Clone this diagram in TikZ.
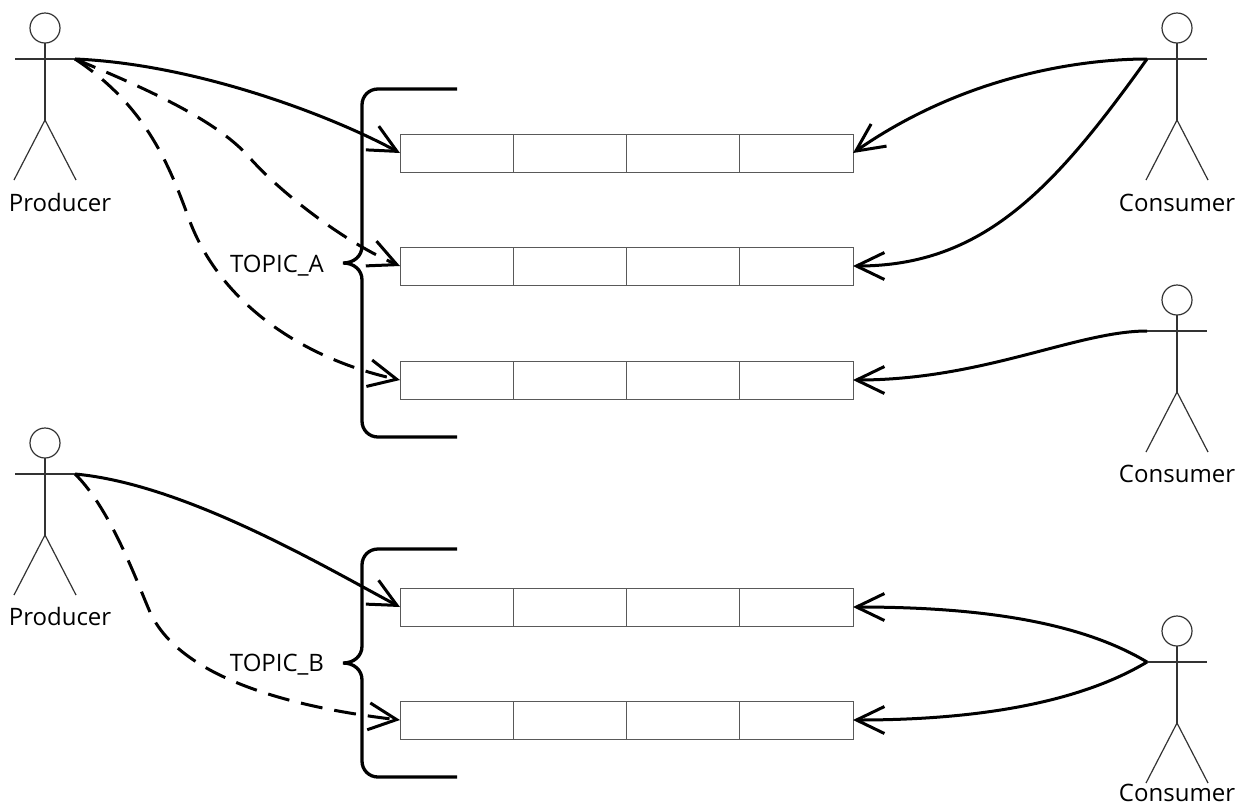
\documentclass[tikz,border=0pt]{standalone}
\usepackage{fontspec}
\setmainfont{Open Sans}
\usetikzlibrary{arrows.meta}
\tikzset{
  fig/.style={draw=black!80, line width=1.2pt},
  cell/.style={draw=black!65, line width=1pt, minimum width=113.25pt, minimum height=38pt, inner sep=0pt, outer sep=0pt, anchor=west},
  conn/.style={line width=3pt, -{Straight Barb[length=28pt,width=27pt]}},
  dashconn/.style={conn, dash pattern=on 22pt off 12pt},
  bracestyle/.style={line width=3.3pt},
  lbl/.style={font=\fontsize{24}{28}\selectfont, inner sep=0pt, anchor=base},
  actor/.pic={
    \draw[fig] (0,0) circle[radius=15pt];
    \draw[fig] (0,15) -- (0,92);
    \draw[fig] (-30,31) -- (30,31);
    \draw[fig] (-31,152) -- (0,92) -- (31,152);
    \coordinate (-l) at (-30,31);
    \coordinate (-r) at (30,31);
  }
}
\begin{document}
\begin{tikzpicture}[x=1pt,y=-1pt]
\useasboundingbox (0,0) rectangle (1238,807);

% actors
\pic (pa) at (45,28) {actor};
\pic (pb) at (45,443) {actor};
\pic (ca) at (1177,28) {actor};
\pic (cm) at (1177,300) {actor};
\pic (cb) at (1177,631) {actor};

\node[lbl] (pal) at (60,211) {Producer};
\node[lbl] (pbl) at (60,625) {Producer};
\node[lbl] (cal) at (1177,211) {Consumer};
\node[lbl] (cml) at (1177,482) {Consumer};
\node[lbl] (cbl) at (1177,801) {Consumer};

% queues
\foreach \r/\y in {1/153,2/266,3/380,4/607,5/720}{
  \node[cell] (r\r a) at (400,\y) {};
  \node[cell] (r\r b) at (r\r a.east) {};
  \node[cell] (r\r c) at (r\r b.east) {};
  \node[cell] (r\r d) at (r\r c.east) {};
}

% braces
\draw[bracestyle] (457,89) -- (378,89) .. controls (369,89) and (362,96) .. (362,105)
  -- (362,246) .. controls (362,256) and (354,263) .. (343,263)
  .. controls (354,263) and (362,270) .. (362,280)
  -- (362,421) .. controls (362,430) and (369,437) .. (378,437) -- (457,437);
\draw[bracestyle] (457,549) -- (378,549) .. controls (369,549) and (362,556) .. (362,565)
  -- (362,646) .. controls (362,656) and (354,663) .. (343,663)
  .. controls (354,663) and (362,670) .. (362,680)
  -- (362,761) .. controls (362,770) and (369,777) .. (378,777) -- (457,777);

\node[lbl] (topA) at (277,272) {TOPIC\_A};
\node[lbl] (topB) at (277,671) {TOPIC\_B};

% producer connectors
\draw[conn] (pa-r) .. controls (195,64) and (330,115) .. (r1a.west);
\draw[dashconn] (pa-r) .. controls (155,92) and (218,122) .. (249,157)
  .. controls (277,189) and (340,240) .. (r2a.west);
\draw[dashconn] (pa-r) .. controls (145,105) and (169,164) .. (189,219)
  .. controls (219,301) and (300,358) .. (r3a.west);
\draw[conn] (pb-r) .. controls (185,484) and (325,567) .. (r4a.west);
\draw[dashconn] (pb-r) .. controls (112,510) and (140,590) .. (150,612)
  .. controls (178,674) and (280,706) .. (r5a.west);

% consumer connectors
\draw[conn] (ca-l) .. controls (1087,59) and (968,73) .. (r1d.east);
\draw[conn] (ca-l) .. controls (1054,189) and (983,266) .. (r2d.east);
\draw[conn] (cm-l) .. controls (1077,331) and (983,380) .. (r3d.east);
\draw[conn] (cb-l) .. controls (1077,620) and (973,607) .. (r4d.east);
\draw[conn] (cb-l) .. controls (1077,704) and (973,720) .. (r5d.east);
\end{tikzpicture}
\end{document}
